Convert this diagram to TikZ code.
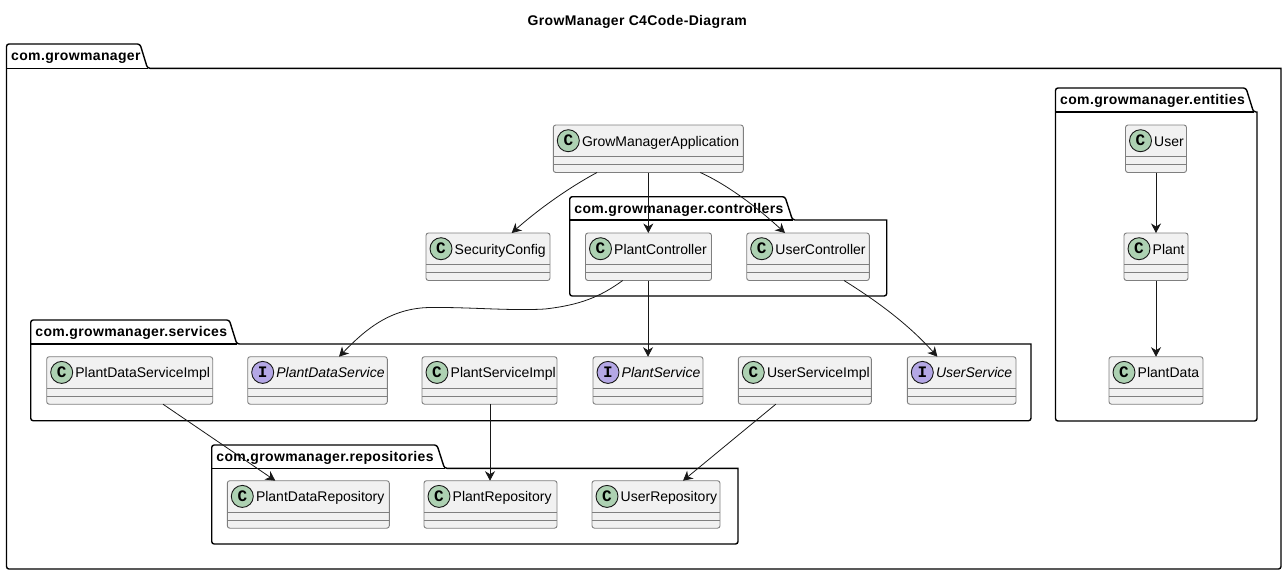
\documentclass[tikz,border=0pt]{standalone}
\usepackage{fontspec}
\setmainfont[BoldFeatures={LetterSpace=2.5}]{Liberation Sans}
\newfontfamily\spotfont{Liberation Mono}
\usetikzlibrary{arrows.meta,calc}

\definecolor{boxfill}{HTML}{F1F1F1}
\definecolor{boxline}{HTML}{7F7F7F}
\definecolor{lineink}{HTML}{181818}
\definecolor{spotc}{HTML}{ADD1B2}
\definecolor{spoti}{HTML}{B4A7E5}

\begin{document}
\begin{tikzpicture}[
    x=1pt, y=-1pt,
    pkg/.style={draw=black, line width=1.4pt, rounded corners=2.5pt},
    pkgtext/.style={anchor=base west, inner sep=0pt, font=\fontsize{14}{16}\selectfont\bfseries},
    classbox/.style={rectangle, draw=boxline, fill=boxfill, line width=0.9pt, rounded corners=2.5pt, inner sep=0pt, outer sep=0pt},
    spot/.style={circle, draw=lineink, line width=0.9pt, minimum size=22pt, inner sep=0pt, font=\spotfont\fontsize{16}{16}\selectfont\bfseries},
    classtext/.style={anchor=base west, inner sep=0pt, font=\fontsize{14}{16}\selectfont},
    sep/.style={draw=boxline, line width=0.9pt},
    arrow/.style={-{Stealth[length=9.5pt, width=10pt, inset=3pt]}, draw=lineink, line width=0.8pt}
]
\useasboundingbox (0,0) rectangle (1287,574);

% Title
\node[pkgtext] (title) at (527.5,25) {GrowManager C4Code-Diagram};

% Packages
\foreach \pname/\xa/\xb/\ya/\tabx/\taby/\yb/\txt in {
    root/6.5/1281/44/140/68.3/569/com.growmanager,
    entities/1055.5/1257/88/1246/112/421/com.growmanager.entities,
    controllers/569.7/886.7/196.7/785/220/296/com.growmanager.controllers,
    services/30.7/1031/320/229.3/344/420.7/com.growmanager.services,
    repositories/211.7/738/445/437/468.3/544/com.growmanager.repositories}
{
    \pgfmathsetmacro{\tabend}{\tabx+7.5}
    \draw[pkg] (\xa,\taby) -- (\xa,\ya) -- (\tabx,\ya) -- (\tabend,\taby)
        [sharp corners] -- (\xb,\taby) [rounded corners=2.5pt] -- (\xb,\yb) -- (\xa,\yb) -- cycle;
    \draw[pkg] (\xa,\taby) -- (\tabend,\taby);
    \node[pkgtext] (\pname label) at (\xa+4.5,\ya+16.7) {\txt};
}

% Classes and interfaces
\foreach \name/\xa/\xb/\ya/\txt/\letter/\col in {
    app/553.3/743.3/125/GrowManagerApplication/C/spotc,
    security/426/550/233/SecurityConfig/C/spotc,
    plantctrl/585.5/711.5/233/PlantController/C/spotc,
    userctrl/746.7/869.3/233/UserController/C/spotc,
    datasvcimpl/46.7/212.7/356.7/PlantDataServiceImpl/C/spotc,
    datasvc/247.7/387.3/356.7/{\itshape PlantDataService}/I/spoti,
    plantsvcimpl/422/557/356.7/PlantServiceImpl/C/spotc,
    plantsvc/593/703/356.7/{\itshape PlantService}/I/spoti,
    usersvcimpl/738.3/871.3/356.7/UserServiceImpl/C/spotc,
    usersvc/907.3/1016/356.7/{\itshape UserService}/I/spoti,
    datarepo/227.3/389.3/480.7/PlantDataRepository/C/spotc,
    plantrepo/424/557/480.7/PlantRepository/C/spotc,
    userrepo/592/720/480.7/UserRepository/C/spotc,
    user/1125.5/1186.5/125/User/C/spotc,
    plant/1124/1188/233/Plant/C/spotc,
    plantdata/1109/1203/356.7/PlantData/C/spotc}
{
    \node[classbox, minimum width=\xb-\xa, minimum height=47.5] (\name) at ({(\xa+\xb)/2},\ya+23.75) {};
    \draw[sep] ($(\name.north west)+(0,31.5)$) -- ($(\name.north east)+(0,31.5)$);
    \draw[sep] ($(\name.north west)+(0,39.5)$) -- ($(\name.north east)+(0,39.5)$);
    \node[spot, fill=\col] (\name spot) at (\xa+15,\ya+15.7) {\letter};
    \node[classtext] (\name text) at (\xa+28.5,\ya+21) {\txt};
}

% Connections
\draw[arrow] ($(app.south)+(-51.3,0)$) .. controls (570,187) and (540,208) .. ($(security.north)+(23.7,0)$);
\draw[arrow] (app.south) -- ($(plantctrl.north)+(-0.2,0)$);
\draw[arrow] ($(app.south)+(52,0)$) .. controls (730,186) and (760,210) .. ($(userctrl.north)+(-23,0)$);
\draw[arrow] ($(plantctrl.south)+(-25.8,0)$) .. controls (600,297) and (580,305) .. (545,309)
    .. controls (510,311) and (470,307) .. (430,307.5)
    .. controls (390,308) and (365,330) .. ($(datasvc.north)+(21.5,0)$);
\draw[arrow] ($(plantctrl.south)+(-0.5,0)$) -- (plantsvc.north);
\draw[arrow] ($(userctrl.south)+(36,0)$) .. controls (880,303) and (910,326) .. ($(usersvc.north)+(-24.3,0)$);
\draw[arrow] ($(datasvcimpl.south)+(33.3,0)$) -- ($(datarepo.north)+(-33,0)$);
\draw[arrow] ($(plantsvcimpl.south)+(0.5,0)$) -- ($(plantrepo.north)+(-0.5,0)$);
\draw[arrow] ($(usersvcimpl.south)+(-29,0)$) -- ($(userrepo.north)+(27,0)$);
\draw[arrow] (user.south) -- (plant.north);
\draw[arrow] (plant.south) -- (plantdata.north);
\end{tikzpicture}
\end{document}
